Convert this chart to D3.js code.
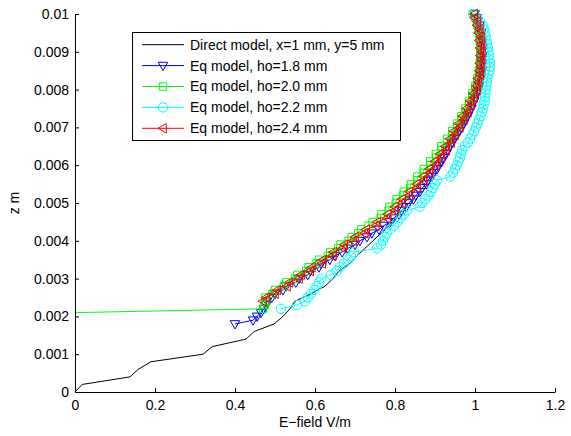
<!DOCTYPE html>
<html><head><meta charset="utf-8">
<script src="https://cdn.jsdelivr.net/npm/d3@7"></script>
<style>body{margin:0;background:#fff}svg{display:block}text{font-family:"Liberation Sans",Arial,sans-serif}</style>
</head><body><svg id="c" width="571" height="436"></svg>
<script>
// ---- data ----
const xTicks = [0, 0.2, 0.4, 0.6, 0.8, 1, 1.2];
const yTicks = [0, 0.001, 0.002, 0.003, 0.004, 0.005, 0.006, 0.007, 0.008, 0.009, 0.01];
const xLabel = "E\u2212field V/m";
const yLabel = "z m";
const legendLabels = ["Direct model, x=1 mm, y=5 mm","Eq model, ho=1.8 mm","Eq model, ho=2.0 mm","Eq model, ho=2.2 mm","Eq model, ho=2.4 mm"];

const zDirect = [0,0.0002,0.0004,0.0006,0.0008,0.0010,0.0012,0.0014,0.0016,0.0018,0.0020,0.0022,0.0024,0.0026,0.0028,0.0030,0.0032,0.0034,0.0036,0.0038,0.0040,0.0042,0.0044,0.0046,0.0048,0.0050,0.0052,0.0054,0.0056,0.0058,0.0060,0.0062,0.0064,0.0066,0.0068,0.0070,0.0072,0.0074,0.0076,0.0078,0.0080,0.0082,0.0084,0.0086,0.0088,0.0090,0.0092,0.0094,0.0096,0.0098,0.0100];
const eDirect = [0,0.018,0.1375,0.158,0.19,0.32,0.343,0.4275,0.448,0.4975,0.52,0.5375,0.55,0.59,0.625,0.645,0.66,0.6875,0.705,0.725,0.745,0.765,0.785,0.80,0.81,0.822,0.84,0.855,0.87,0.885,0.90,0.912,0.925,0.937,0.949,0.96,0.971,0.981,0.99,0.998,1.005,1.009,1.012,1.014,1.015,1.016,1.016,1.014,1.011,1.006,0.998];

const zEq = [0.0018,0.0019,0.0020,0.0021,0.0022,0.0023,0.0024,0.0025,0.0026,0.0027,0.0028,0.0029,0.0030,0.0031,0.0032,0.0033,0.0034,0.0035,0.0036,0.0037,0.0038,0.0039,0.0040,0.0041,0.0042,0.0043,0.0044,0.0045,0.0046,0.0047,0.0048,0.0049,0.0050,0.0051,0.0052,0.0053,0.0054,0.0055,0.0056,0.0057,0.0058,0.0059,0.0060,0.0061,0.0062,0.0063,0.0064,0.0065,0.0066,0.0067,0.0068,0.0069,0.0070,0.0071,0.0072,0.0073,0.0074,0.0075,0.0076,0.0077,0.0078,0.0079,0.0080,0.0081,0.0082,0.0083,0.0084,0.0085,0.0086,0.0087,0.0088,0.0089,0.0090,0.0091,0.0092,0.0093,0.0094,0.0095,0.0096,0.0097,0.0098,0.0099,0.0100];

// ho=1.8 mm (starts z=0.0018)
const eHo18 = [0.400,0.445,0.455,0.465,0.472,0.478,0.480,0.492,0.500,0.520,0.528,0.552,0.560,0.582,0.588,0.610,0.615,0.637,0.650,0.668,0.682,0.700,0.712,0.730,0.742,0.760,0.772,0.788,0.796,0.810,0.816,0.828,0.834,0.846,0.852,0.862,0.868,0.878,0.882,0.892,0.896,0.905,0.909,0.917,0.920,0.928,0.931,0.938,0.942,0.949,0.953,0.961,0.965,0.972,0.975,0.982,0.985,0.991,0.993,0.998,1.000,1.005,1.007,1.010,1.011,1.014,1.014,1.017,1.016,1.018,1.017,1.019,1.017,1.018,1.016,1.017,1.014,1.015,1.011,1.011,1.006,1.004,0.999];
// ho=2.0 mm (starts z=0.0021)
const eHo20 = [0,0.470,0.474,0.478,0.476,0.494,0.500,0.522,0.528,0.550,0.556,0.578,0.584,0.604,0.610,0.632,0.638,0.658,0.664,0.684,0.692,0.708,0.716,0.734,0.744,0.764,0.766,0.784,0.786,0.802,0.804,0.820,0.822,0.838,0.840,0.856,0.856,0.872,0.872,0.888,0.888,0.903,0.902,0.917,0.916,0.931,0.930,0.944,0.943,0.956,0.955,0.967,0.966,0.977,0.976,0.986,0.985,0.994,0.993,1.001,1.001,1.006,1.006,1.010,1.010,1.013,1.012,1.014,1.013,1.015,1.013,1.014,1.012,1.012,1.010,1.009,1.006,1.005,1.001,0.998];
// ho=2.2 mm (starts z=0.0022)
const eHo22 = [0.515,0.555,0.575,0.582,0.590,0.598,0.604,0.610,0.616,0.640,0.654,0.662,0.672,0.682,0.690,0.698,0.755,0.765,0.770,0.774,0.779,0.788,0.797,0.806,0.814,0.822,0.830,0.862,0.868,0.876,0.884,0.890,0.895,0.900,0.905,0.938,0.945,0.950,0.954,0.958,0.962,0.965,0.968,0.975,0.982,0.988,0.993,0.998,1.002,1.006,1.010,1.014,1.017,1.020,1.022,1.024,1.025,1.026,1.027,1.028,1.030,1.031,1.033,1.036,1.037,1.037,1.036,1.035,1.033,1.032,1.030,1.029,1.027,1.025,1.022,1.019,1.013,1.005,0.995];
// ho=2.4 mm (starts z=0.0024)
const eHo24 = [0.470,0.478,0.500,0.506,0.530,0.536,0.560,0.565,0.588,0.592,0.618,0.620,0.644,0.646,0.670,0.673,0.696,0.700,0.724,0.728,0.752,0.756,0.780,0.782,0.800,0.800,0.818,0.818,0.836,0.836,0.855,0.855,0.872,0.871,0.887,0.886,0.902,0.900,0.915,0.913,0.928,0.926,0.940,0.937,0.950,0.947,0.962,0.959,0.972,0.969,0.982,0.979,0.990,0.988,0.998,0.996,1.005,1.003,1.009,1.007,1.013,1.011,1.015,1.012,1.016,1.013,1.017,1.013,1.016,1.011,1.015,1.009,1.012,1.005,1.006,0.999,0.998];

const seriesColors = ["#000000","#0000ff","#00ff00","#00ffff","#ff0000"];
const seriesMarkers = [null,"tridown","square","circle","trileft"];

// ---- build ----
function pairs(E, Z){ const z = Z.slice(Z.length - E.length); return E.map((e,i)=>({e, z:z[i]})); }
const series = [
  pairs(eDirect, zDirect),
  pairs(eHo18, zEq),
  pairs(eHo20, zEq),
  pairs(eHo22, zEq),
  pairs(eHo24, zEq)
];

const svg = d3.select("#c");
svg.append("rect").attr("width",571).attr("height",436).attr("fill","#fff");
const x = d3.scaleLinear().domain([0,1.2]).range([75,555]);
const y = d3.scaleLinear().domain([0,0.01]).range([392,14]);

function markerPath(type){
  switch(type){
    case "tridown": return "M-4.8,-3.3L4.8,-3.3L0,5Z";
    case "trileft": return "M-5,0L3.3,-4.8L3.3,4.8Z";
    case "square": return "M-3.7,-3.7H3.7V3.7H-3.7Z";
    case "circle": return d3.arc()({innerRadius:0,outerRadius:4.7,startAngle:0,endAngle:2*Math.PI});
  }
}

const line = d3.line().x(d=>x(d.e)).y(d=>y(d.z));
series.forEach((s,i)=>{
  const g = svg.append("g");
  g.append("path").datum(s).attr("d",line).attr("fill","none")
    .attr("stroke",seriesColors[i]).attr("stroke-width",1);
  if(seriesMarkers[i]){
    g.selectAll("path.m").data(s.filter(d=>d.e>0)).join("path").attr("class","m")
      .attr("transform",d=>`translate(${x(d.e)},${y(d.z)})`)
      .attr("d",markerPath(seriesMarkers[i])).attr("fill","none")
      .attr("stroke",seriesColors[i]).attr("stroke-width",1);
  }
});

// axes (MATLAB-style inward ticks, no box)
const xAxis = d3.axisBottom(x).tickValues(xTicks).tickSizeInner(-4).tickSizeOuter(0).tickPadding(8).tickFormat(d3.format("~g"));
const gx = svg.append("g").attr("transform","translate(0,392)").call(xAxis);
const yAxis = d3.axisLeft(y).tickValues(yTicks).tickSizeInner(-4).tickSizeOuter(0).tickPadding(6).tickFormat(d=> d===0?"0":d3.format(".3~f")(d));
const gy = svg.append("g").attr("transform","translate(75,0)").call(yAxis);
[gx,gy].forEach(g=>{
  g.selectAll("path.domain").attr("stroke","#000");
  g.selectAll(".tick line").attr("stroke","#000");
  g.selectAll("text").attr("font-size",14).attr("fill","#000").attr("font-family","'Liberation Sans',Arial,sans-serif");
});
gx.selectAll("text").attr("dy","0.71em").attr("y",8);

svg.append("text").attr("x",315).attr("y",427).attr("text-anchor","middle")
  .attr("font-size",14).text(xLabel);
svg.append("text").attr("transform","translate(19,203) rotate(-90)").attr("text-anchor","middle")
  .attr("font-size",14).text(yLabel);

// legend
const lg = svg.append("g");
lg.append("rect").attr("x",132.5).attr("y",32.5).attr("width",268).attr("height",108)
  .attr("fill","#fff").attr("stroke","#000").attr("stroke-width",1);
legendLabels.forEach((lab,i)=>{
  const yy = 44.7 + i*20.9;
  lg.append("line").attr("x1",142).attr("x2",184).attr("y1",yy).attr("y2",yy)
    .attr("stroke",seriesColors[i]).attr("stroke-width",1);
  if(seriesMarkers[i]) lg.append("path").attr("transform",`translate(163,${yy})`)
    .attr("d",markerPath(seriesMarkers[i])).attr("fill","none").attr("stroke",seriesColors[i]);
  lg.append("text").attr("x",190).attr("y",yy).attr("dy","0.35em").attr("font-size",14).text(lab);
});
</script></body></html>
